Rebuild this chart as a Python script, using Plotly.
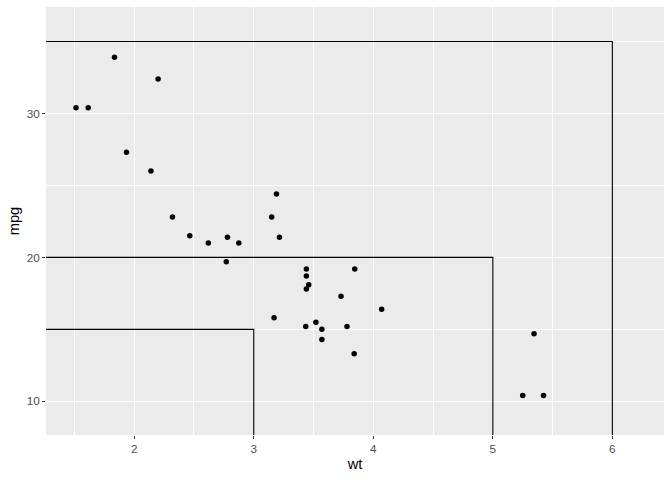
import plotly.graph_objects as go

wt = [2.620, 2.875, 2.320, 3.215, 3.440, 3.460, 3.570, 3.190, 3.150, 3.440, 3.440, 4.070, 3.730, 3.780,
      5.250, 5.424, 5.345, 2.200, 1.615, 1.835, 2.465, 3.520, 3.435, 3.840, 3.845, 1.935, 2.140, 1.513,
      3.170, 2.770, 3.570, 2.780]
mpg = [21.0, 21.0, 22.8, 21.4, 18.7, 18.1, 14.3, 24.4, 22.8, 19.2, 17.8, 16.4, 17.3, 15.2, 10.4, 10.4,
       14.7, 32.4, 30.4, 33.9, 21.5, 15.5, 15.2, 13.3, 19.2, 27.3, 26.0, 30.4, 15.8, 19.7, 15.0, 21.4]

rect_xmax = [3, 5, 6]
rect_ymax = [15, 20, 35]

x_range = [1.262, 6.432]
y_range = [7.66, 37.40]
x_ticks = [2, 3, 4, 5, 6]
y_ticks = [10, 20, 30]

fig = go.Figure()

lo_x, lo_y = -100, -100
for xm, ym in zip(rect_xmax, rect_ymax):
    fig.add_trace(go.Scatter(x=[lo_x, xm, xm], y=[ym, ym, lo_y], mode="lines",
                             line=dict(color="black", width=1.1), hoverinfo="skip",
                             showlegend=False))

fig.add_trace(go.Scatter(x=wt, y=mpg, mode="markers",
                         marker=dict(color="black", size=5.5), showlegend=False))

axis_common = dict(
    showgrid=True, gridcolor="white", gridwidth=1.1,
    zeroline=False, showline=False,
    ticks="outside", ticklen=3, tickcolor="#333333", tickwidth=1.1,
    tickfont=dict(family="Liberation Sans, Arial", size=11.7, color="#4D4D4D"),
    minor=dict(showgrid=True, gridcolor="white", gridwidth=0.5, ticks=""),
    title_font=dict(family="Liberation Sans, Arial", size=14.6, color="black"),
)

fig.update_xaxes(range=x_range, tickvals=x_ticks, title_text="wt", title_standoff=4,
                 minor_dtick=0.5, minor_tick0=1.5, **axis_common)
fig.update_yaxes(range=y_range, tickvals=y_ticks, title_text="mpg", title_standoff=3,
                 minor_dtick=5, minor_tick0=5, **axis_common)

fig.update_layout(
    width=672, height=480,
    margin=dict(l=46, r=8, t=7, b=45),
    plot_bgcolor="#EBEBEB", paper_bgcolor="white",
    font=dict(family="Liberation Sans, Arial"),
)

fig.write_html("out.html", config={"displayModeBar": False},
               post_script="document.body.style.margin='0';document.body.style.padding='0';")
